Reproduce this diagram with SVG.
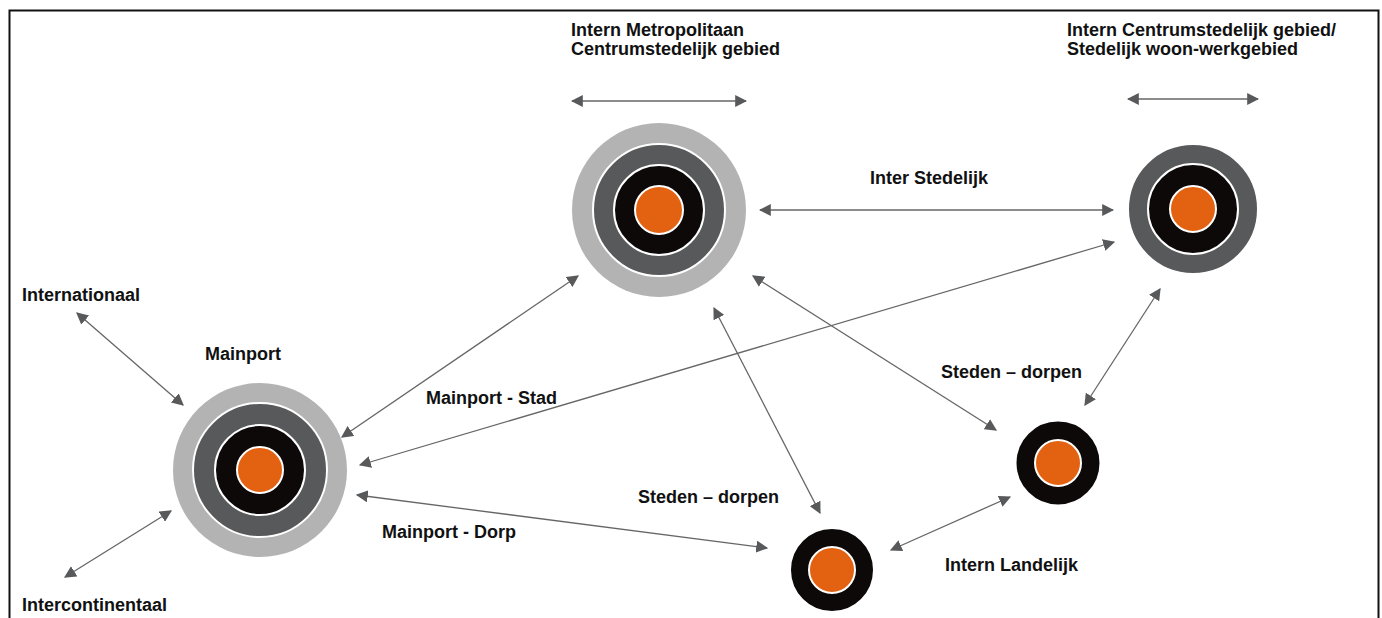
<svg xmlns="http://www.w3.org/2000/svg" width="1382" height="618" viewBox="0 0 1382 618">
<style>
.lbl{font-family:"Liberation Sans",Arial,sans-serif;font-weight:bold;font-size:18px;fill:#111}
.c{stroke:#666;stroke-width:1.3;fill:none;marker-start:url(#ah);marker-end:url(#ah)}
.lg{fill:#b3b3b3}
.dg{fill:#58595b;stroke:#fff;stroke-width:2}
.bk{fill:#0c0908;stroke:#fff;stroke-width:2}
.or{fill:#e36212;stroke:#fff;stroke-width:2}
</style>
<defs>
<marker id="ah" viewBox="0 0 10 10" refX="9" refY="5" markerWidth="12" markerHeight="12" markerUnits="userSpaceOnUse" orient="auto-start-reverse">
<path d="M0,0 L10,5 L0,10 z" fill="#58595b"/>
</marker>
</defs>
<rect x="0" y="0" width="1382" height="618" fill="#fff"/>
<rect x="9.5" y="10.5" width="1369" height="640" fill="none" stroke="#111" stroke-width="2"/>
<g id="connectors">
<line class="c" x1="572" y1="101" x2="746" y2="101"/>
<line class="c" x1="1128" y1="99" x2="1258" y2="99"/>
<line class="c" x1="760" y1="210" x2="1113" y2="210"/>
<line class="c" x1="77" y1="313" x2="183" y2="405"/>
<line class="c" x1="65" y1="577" x2="171" y2="511"/>
<line class="c" x1="342" y1="437" x2="578" y2="276"/>
<line class="c" x1="360" y1="465" x2="1114" y2="242"/>
<line class="c" x1="357" y1="495" x2="767" y2="548"/>
<line class="c" x1="714" y1="308" x2="820" y2="513"/>
<line class="c" x1="753" y1="276" x2="996" y2="430"/>
<line class="c" x1="1085" y1="405" x2="1160" y2="289"/>
<line class="c" x1="891" y1="550" x2="1010" y2="497"/>
</g>
<g id="mainport">
<circle class="lg" cx="260" cy="470" r="87"/>
<circle class="dg" cx="260" cy="470" r="67"/>
<circle class="bk" cx="260" cy="470" r="45"/>
<circle class="or" cx="260" cy="470" r="23"/>
<text class="lbl" x="205" y="360">Mainport</text>
</g>
<g id="metropolitaan">
<circle class="lg" cx="659" cy="210" r="87"/>
<circle class="dg" cx="659" cy="210" r="66"/>
<circle class="bk" cx="659" cy="210" r="45"/>
<circle class="or" cx="659" cy="210" r="24"/>
<text class="lbl" x="571" y="36">Intern Metropolitaan</text>
<text class="lbl" x="571" y="55">Centrumstedelijk gebied</text>
</g>
<g id="centrumstedelijk">
<circle class="dg" cx="1193" cy="209" r="65" stroke="none"/>
<circle class="bk" cx="1193" cy="209" r="45"/>
<circle class="or" cx="1193" cy="209" r="23"/>
<text class="lbl" x="1067" y="36">Intern Centrumstedelijk gebied/</text>
<text class="lbl" x="1067" y="55">Stedelijk woon-werkgebied</text>
</g>
<g id="dorp-rechts">
<circle class="bk" cx="1058" cy="463" r="42.5" stroke="none"/>
<circle class="or" cx="1058" cy="463" r="23"/>
</g>
<g id="dorp-onder">
<circle class="bk" cx="832" cy="570" r="42" stroke="none"/>
<circle class="or" cx="832" cy="570" r="23"/>
</g>
<g id="labels">
<text class="lbl" x="870" y="184">Inter Stedelijk</text>
<text class="lbl" x="22" y="301">Internationaal</text>
<text class="lbl" x="426" y="404">Mainport - Stad</text>
<text class="lbl" x="941" y="378">Steden – dorpen</text>
<text class="lbl" x="638" y="503">Steden – dorpen</text>
<text class="lbl" x="382" y="538">Mainport - Dorp</text>
<text class="lbl" x="945" y="571">Intern Landelijk</text>
<text class="lbl" x="22" y="611">Intercontinentaal</text>
</g>
</svg>
